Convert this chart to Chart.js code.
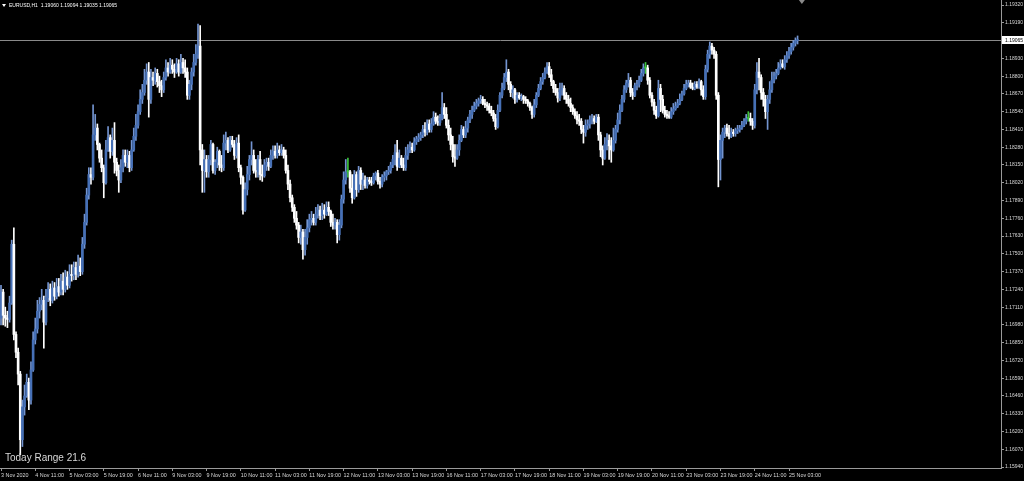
<!DOCTYPE html>
<html>
<head>
<meta charset="utf-8">
<script src="https://cdn.jsdelivr.net/npm/chart.js@4.4.1/dist/chart.umd.min.js"></script>
<style>
  html, body { margin: 0; padding: 0; background: #000; }
  #wrap { width: 1024px; height: 481px; position: relative; }
</style>
</head>
<body>
<div id="wrap"><canvas id="eurusdChart"></canvas></div>
<script>
// EURUSD H1 candles (open = previous close)
const symbolName = 'EURUSD,H1';
const todayRange = '21.6';
const firstOpen = 1.1703;

const closes = [
  1.1722,1.1705,1.1703,1.1702,1.1714,1.1757,1.1691,1.1678,1.1662,1.1614,
  1.1638,1.1646,1.1656,1.1643,1.1665,1.1687,1.1695,1.1708,1.1713,1.1716,
  1.1700,1.1718,1.1724,1.1716,1.1725,1.1719,1.1726,1.1722,1.1730,1.1724,
  1.1733,1.1727,1.1735,1.1734,1.1740,1.1735,1.1741,1.1737,1.1757,1.1773,
  1.1793,1.1808,1.1806,1.1837,1.1842,1.1830,1.1820,1.1813,1.1802,1.1826,
  1.1835,1.1825,1.1833,1.1817,1.1811,1.1804,1.1813,1.1822,1.1817,1.1822,
  1.1813,1.1826,1.1836,1.1844,1.1854,1.1863,1.1868,1.1877,1.1883,1.1863,
  1.1879,1.1877,1.1882,1.1876,1.1873,1.1870,1.1879,1.1886,1.1883,1.1888,
  1.1885,1.1883,1.1889,1.1883,1.1890,1.1886,1.1883,1.1866,1.1874,1.1883,
  1.1890,1.1896,1.1902,1.1826,1.1811,1.1819,1.1810,1.1819,1.1830,1.1811,
  1.1817,1.1825,1.1815,1.1813,1.1831,1.1833,1.1826,1.1833,1.1830,1.1822,
  1.1831,1.1813,1.1806,1.1782,1.1797,1.1808,1.1819,1.1822,1.1811,1.1810,
  1.1819,1.1808,1.1807,1.1815,1.1817,1.1814,1.1822,1.1825,1.1822,1.1826,
  1.1824,1.1826,1.1822,1.1811,1.1801,1.1791,1.1784,1.1776,1.1771,1.1762,
  1.1766,1.1753,1.1762,1.1769,1.1775,1.1776,1.1773,1.1779,1.1782,1.1778,
  1.1782,1.1779,1.1784,1.1781,1.1773,1.1771,1.1773,1.1764,1.1771,1.1790,
  1.1804,1.1810,1.1810,1.1798,1.1791,1.1808,1.1797,1.1811,1.1801,1.1804,
  1.1800,1.1804,1.1803,1.1802,1.1807,1.1809,1.1803,1.1801,1.1806,1.1807,
  1.1810,1.1811,1.1815,1.1819,1.1824,1.1814,1.1820,1.1815,1.1813,1.1822,
  1.1826,1.1828,1.1826,1.1832,1.1834,1.1835,1.1837,1.1841,1.1839,1.1845,
  1.1841,1.1845,1.1850,1.1847,1.1846,1.1849,1.1857,1.1852,1.1844,1.1837,
  1.1830,1.1821,1.1820,1.1826,1.1833,1.1841,1.1837,1.1842,1.1848,1.1852,
  1.1855,1.1858,1.1860,1.1862,1.1863,1.1860,1.1859,1.1858,1.1855,1.1853,
  1.1849,1.1843,1.1855,1.1866,1.1871,1.1879,1.1883,1.1874,1.1868,1.1870,
  1.1863,1.1866,1.1864,1.1865,1.1863,1.1862,1.1860,1.1857,1.1852,1.1859,
  1.1866,1.1871,1.1876,1.1879,1.1883,1.1887,1.1881,1.1876,1.1871,1.1868,
  1.1864,1.1870,1.1871,1.1866,1.1863,1.1860,1.1857,1.1854,1.1851,1.1848,
  1.1847,1.1841,1.1839,1.1844,1.1845,1.1848,1.1849,1.1847,1.1850,1.1837,
  1.1826,1.1820,1.1830,1.1833,1.1829,1.1826,1.1833,1.1841,1.1848,1.1855,
  1.1863,1.1870,1.1875,1.1877,1.1868,1.1866,1.1873,1.1874,1.1877,1.1882,
  1.1886,1.1886,1.1877,1.1866,1.1861,1.1855,1.1851,1.1871,1.1863,1.1855,
  1.1852,1.1851,1.1850,1.1854,1.1856,1.1858,1.1860,1.1863,1.1867,1.1871,
  1.1874,1.1875,1.1872,1.1871,1.1874,1.1872,1.1876,1.1870,1.1865,1.1885,
  1.1896,1.1902,1.1899,1.1896,1.1866,1.1819,1.1833,1.1839,1.1842,1.1838,
  1.1836,1.1839,1.1838,1.1840,1.1841,1.1842,1.1844,1.1847,1.1849,1.1849,
  1.1847,1.1844,1.1870,1.1883,1.1879,1.1868,1.1863,1.1854,1.1863,1.1870,
  1.1877,1.1880,1.1882,1.1886,1.1889,1.1887,1.1892,1.1895,1.1898,1.1901,
  1.1904,1.19060,1.19065
];

const highs = [
  1.1727,1.1724,1.1711,1.1708,1.1719,1.1760,1.1769,1.1693,1.1681,1.1664,
  1.1643,1.1654,1.1662,1.1659,1.1671,1.1693,1.1703,1.1716,1.1718,1.1724,
  1.1719,1.1724,1.1729,1.1728,1.1730,1.1729,1.1732,1.1732,1.1735,1.1736,
  1.1738,1.1737,1.1742,1.1742,1.1744,1.1744,1.1749,1.1747,1.1762,1.1779,
  1.1798,1.1813,1.1813,1.1859,1.1852,1.1845,1.1831,1.1826,1.1815,1.1833,
  1.1843,1.1837,1.1842,1.1846,1.1820,1.1815,1.1819,1.1826,1.1826,1.1826,
  1.1825,1.1833,1.1842,1.1852,1.1859,1.1870,1.1874,1.1885,1.1889,1.1890,
  1.1885,1.1883,1.1886,1.1885,1.1880,1.1877,1.1883,1.1892,1.1890,1.1893,
  1.1892,1.1889,1.1893,1.1892,1.1896,1.1893,1.1892,1.1886,1.1877,1.1886,
  1.1896,1.1903,1.1918,1.1917,1.1830,1.1826,1.1822,1.1822,1.1833,1.1831,
  1.1819,1.1828,1.1826,1.1822,1.1837,1.1839,1.1835,1.1836,1.1836,1.1833,
  1.1835,1.1837,1.1815,1.1807,1.1802,1.1814,1.1822,1.1832,1.1826,1.1819,
  1.1822,1.1825,1.1815,1.1819,1.1820,1.1820,1.1826,1.1829,1.1829,1.1831,
  1.1829,1.1830,1.1828,1.1826,1.1815,1.1804,1.1793,1.1786,1.1781,1.1773,
  1.1771,1.1768,1.1768,1.1775,1.1779,1.1781,1.1779,1.1784,1.1786,1.1785,
  1.1787,1.1786,1.1788,1.1788,1.1782,1.1779,1.1776,1.1775,1.1775,1.1793,
  1.1810,1.1819,1.1820,1.1811,1.1808,1.1811,1.1810,1.1814,1.1813,1.1809,
  1.1807,1.1806,1.1806,1.1806,1.1809,1.1810,1.1811,1.1806,1.1808,1.1810,
  1.1811,1.1814,1.1817,1.1822,1.1830,1.1833,1.1826,1.1822,1.1820,1.1828,
  1.1830,1.1832,1.1831,1.1835,1.1836,1.1838,1.1839,1.1844,1.1846,1.1848,
  1.1848,1.1849,1.1854,1.1853,1.1851,1.1852,1.1868,1.1860,1.1857,1.1848,
  1.1842,1.1836,1.1830,1.1830,1.1837,1.1844,1.1843,1.1847,1.1850,1.1855,
  1.1858,1.1861,1.1863,1.1864,1.1866,1.1865,1.1863,1.1861,1.1860,1.1858,
  1.1855,1.1852,1.1859,1.1868,1.1875,1.1882,1.1892,1.1885,1.1876,1.1873,
  1.1871,1.1868,1.1868,1.1867,1.1866,1.1865,1.1863,1.1861,1.1858,1.1863,
  1.1868,1.1874,1.1879,1.1882,1.1886,1.1890,1.1890,1.1885,1.1877,1.1874,
  1.1871,1.1875,1.1875,1.1873,1.1868,1.1866,1.1864,1.1859,1.1856,1.1854,
  1.1852,1.1849,1.1844,1.1848,1.1848,1.1851,1.1852,1.1851,1.1852,1.1852,
  1.1839,1.1829,1.1835,1.1838,1.1837,1.1835,1.1842,1.1844,1.1853,1.1859,
  1.1866,1.1873,1.1877,1.1882,1.1879,1.1871,1.1875,1.1877,1.1880,1.1885,
  1.1889,1.1890,1.1888,1.1879,1.1868,1.1863,1.1858,1.1877,1.1874,1.1866,
  1.1858,1.1855,1.1854,1.1857,1.1860,1.1861,1.1863,1.1867,1.1869,1.1874,
  1.1877,1.1877,1.1877,1.1875,1.1876,1.1876,1.1878,1.1877,1.1873,1.1888,
  1.1899,1.1905,1.1904,1.1901,1.1898,1.1868,1.1837,1.1842,1.1844,1.1845,
  1.1844,1.1842,1.1841,1.1842,1.1844,1.1844,1.1847,1.1849,1.1852,1.1854,
  1.1853,1.1849,1.1874,1.1890,1.1893,1.1881,1.1871,1.1866,1.1866,1.1876,
  1.1883,1.1883,1.1885,1.1890,1.1892,1.1892,1.1895,1.1898,1.1901,1.1904,
  1.1906,1.1908,1.19094
];

const lows = [
  1.1698,1.1698,1.1697,1.1696,1.1700,1.1713,1.1687,1.1674,1.1654,1.1603,
  1.1609,1.1632,1.1645,1.1636,1.1640,1.1664,1.1684,1.1692,1.1703,1.1709,
  1.1681,1.1698,1.1715,1.1712,1.1714,1.1716,1.1717,1.1719,1.1720,1.1720,
  1.1722,1.1724,1.1725,1.1730,1.1731,1.1731,1.1733,1.1734,1.1735,1.1754,
  1.1771,1.1790,1.1801,1.1804,1.1833,1.1826,1.1817,1.1810,1.1791,1.1801,
  1.1825,1.1820,1.1822,1.1809,1.1807,1.1795,1.1802,1.1810,1.1814,1.1813,
  1.1810,1.1811,1.1825,1.1833,1.1842,1.1852,1.1860,1.1866,1.1874,1.1850,
  1.1860,1.1873,1.1874,1.1872,1.1868,1.1865,1.1868,1.1877,1.1880,1.1882,
  1.1882,1.1879,1.1882,1.1880,1.1882,1.1882,1.1879,1.1863,1.1863,1.1870,
  1.1880,1.1888,1.1893,1.1815,1.1795,1.1795,1.1806,1.1806,1.1815,1.1809,
  1.1808,1.1813,1.1811,1.1810,1.1811,1.1826,1.1824,1.1825,1.1828,1.1819,
  1.1820,1.1810,1.1801,1.1779,1.1781,1.1793,1.1804,1.1815,1.1809,1.1806,
  1.1806,1.1804,1.1803,1.1806,1.1811,1.1811,1.1813,1.1819,1.1820,1.1820,
  1.1822,1.1822,1.1820,1.1809,1.1797,1.1788,1.1781,1.1773,1.1768,1.1758,
  1.1757,1.1746,1.1749,1.1757,1.1766,1.1771,1.1771,1.1771,1.1776,1.1775,
  1.1775,1.1776,1.1778,1.1778,1.1770,1.1768,1.1768,1.1758,1.1760,1.1769,
  1.1787,1.1801,1.1806,1.1795,1.1787,1.1790,1.1792,1.1795,1.1797,1.1797,
  1.1798,1.1798,1.1801,1.1800,1.1801,1.1804,1.1801,1.1798,1.1799,1.1803,
  1.1804,1.1808,1.1809,1.1813,1.1815,1.1811,1.1813,1.1813,1.1811,1.1811,
  1.1819,1.1824,1.1824,1.1825,1.1830,1.1832,1.1833,1.1835,1.1836,1.1837,
  1.1839,1.1839,1.1844,1.1845,1.1844,1.1844,1.1848,1.1849,1.1842,1.1833,
  1.1826,1.1817,1.1814,1.1819,1.1822,1.1832,1.1835,1.1835,1.1839,1.1846,
  1.1849,1.1854,1.1856,1.1858,1.1860,1.1859,1.1857,1.1855,1.1853,1.1851,
  1.1847,1.1841,1.1842,1.1854,1.1864,1.1870,1.1876,1.1870,1.1865,1.1864,
  1.1860,1.1861,1.1863,1.1862,1.1860,1.1860,1.1858,1.1855,1.1849,1.1850,
  1.1857,1.1865,1.1870,1.1874,1.1878,1.1882,1.1879,1.1873,1.1868,1.1866,
  1.1861,1.1862,1.1866,1.1863,1.1860,1.1858,1.1854,1.1852,1.1849,1.1845,
  1.1844,1.1838,1.1831,1.1836,1.1841,1.1842,1.1845,1.1845,1.1846,1.1833,
  1.1821,1.1815,1.1819,1.1826,1.1819,1.1817,1.1825,1.1831,1.1839,1.1845,
  1.1854,1.1861,1.1868,1.1872,1.1865,1.1863,1.1865,1.1870,1.1872,1.1876,
  1.1880,1.1882,1.1874,1.1864,1.1858,1.1852,1.1849,1.1850,1.1854,1.1853,
  1.1850,1.1849,1.1849,1.1849,1.1852,1.1855,1.1857,1.1859,1.1862,1.1866,
  1.1870,1.1872,1.1871,1.1870,1.1870,1.1871,1.1871,1.1866,1.1863,1.1863,
  1.1883,1.1893,1.1896,1.1893,1.1863,1.1799,1.1804,1.1820,1.1835,1.1836,
  1.1834,1.1835,1.1836,1.1836,1.1838,1.1839,1.1841,1.1843,1.1845,1.1847,
  1.1844,1.1841,1.1842,1.1867,1.1870,1.1863,1.1858,1.1849,1.1841,1.1860,
  1.1868,1.1875,1.1878,1.1881,1.1885,1.1886,1.1885,1.1890,1.1893,1.1896,
  1.1899,1.1902,1.19035
];

// one time label every 16 bars
const xTickLabels = [
  '3 Nov 2020', '4 Nov 11:00', '5 Nov 03:00', '5 Nov 19:00', '6 Nov 11:00',
  '9 Nov 03:00', '9 Nov 19:00', '10 Nov 11:00', '11 Nov 03:00', '11 Nov 19:00',
  '12 Nov 11:00', '13 Nov 03:00', '13 Nov 19:00', '16 Nov 11:00', '17 Nov 03:00',
  '17 Nov 19:00', '18 Nov 11:00', '19 Nov 03:00', '19 Nov 19:00', '20 Nov 11:00',
  '23 Nov 03:00', '23 Nov 19:00', '24 Nov 11:00', '25 Nov 03:00'
];
const barsPerLabel = 16;

const yTickValues = [
  1.15940, 1.16070, 1.16200, 1.16330, 1.16460, 1.16590, 1.16720, 1.16850, 1.16980,
  1.17110, 1.17240, 1.17370, 1.17500, 1.17630, 1.17760, 1.17890, 1.18020, 1.18150,
  1.18280, 1.18410, 1.18540, 1.18670, 1.18800, 1.18930, 1.19060, 1.19190, 1.19320
];

const bullColor = '#4670b6';
const bullWick = '#7394d0';
const bearColor = '#ffffff';
const dojiColor = '#3cc43c';
const axisColor = '#9a9a9a';
const textColor = '#d8d8d8';

const bodies = [], wicks = [], bodyColors = [], wickColors = [];
closes.forEach((c, i) => {
  const o = i === 0 ? firstOpen : closes[i - 1];
  bodies.push({ x: i, y: [o, c] });
  wicks.push({ x: i, y: [Math.min(lows[i], o, c), Math.max(highs[i], o, c)] });
  bodyColors.push(c > o ? bullColor : (c < o ? bearColor : dojiColor));
  wickColors.push(c > o ? bullWick : (c < o ? bearColor : dojiColor));
});

const last = closes.length - 1;
const lastOpen = closes[last - 1];
const lastClose = closes[last];

Chart.defaults.font.family = '"Liberation Sans", Arial, sans-serif';

const mtOverlay = {
  id: 'mtOverlay',
  beforeDraw(chart) {
    const ctx = chart.ctx;
    ctx.save();
    ctx.fillStyle = '#000';
    ctx.fillRect(0, 0, chart.width, chart.height);
    ctx.restore();
  },
  beforeDatasetsDraw(chart) {
    const { ctx, chartArea, scales } = chart;
    const y = Math.round(scales.y.getPixelForValue(lastClose)) + 0.5;
    ctx.save();
    ctx.strokeStyle = '#8a8a8a';
    ctx.lineWidth = 1;
    ctx.beginPath();
    ctx.moveTo(chartArea.left, y);
    ctx.lineTo(chartArea.right, y);
    ctx.stroke();
    ctx.restore();
  },
  afterDraw(chart) {
    const { ctx, chartArea, scales } = chart;
    ctx.save();
    // bid price box on the axis
    const y = Math.round(scales.y.getPixelForValue(lastClose));
    ctx.fillStyle = '#ffffff';
    ctx.fillRect(chartArea.right + 1, y - 4, 22, 8);
    ctx.fillStyle = '#000';
    ctx.font = '5px "Liberation Sans", Arial, sans-serif';
    ctx.textBaseline = 'middle';
    ctx.textAlign = 'left';
    ctx.fillText(lastClose.toFixed(5), chartArea.right + 4, y + 0.5);

    // header: symbol and OHLC of the last bar
    ctx.fillStyle = '#ffffff';
    ctx.beginPath();
    ctx.moveTo(2, 4); ctx.lineTo(6, 4); ctx.lineTo(4, 7); ctx.closePath();
    ctx.fill();
    ctx.fillText(symbolName + '  ' + [lastOpen, highs[last], lows[last], lastClose]
      .map(v => v.toFixed(5)).join(' '), 9, 5.5);

    // chart shift marker
    const sx = scales.x.getPixelForValue(closes.length + 1);
    ctx.fillStyle = '#8a8a8a';
    ctx.beginPath();
    ctx.moveTo(sx - 3, 0); ctx.lineTo(sx + 3, 0); ctx.lineTo(sx, 4); ctx.closePath();
    ctx.fill();

    // today range label
    ctx.fillStyle = textColor;
    ctx.font = '10px "Liberation Sans", Arial, sans-serif';
    ctx.textBaseline = 'alphabetic';
    ctx.fillText('Today Range ' + todayRange, 5, 461);
    ctx.restore();
  }
};

new Chart(document.getElementById('eurusdChart'), {
  type: 'bar',
  data: {
    datasets: [
      {
        label: 'body',
        data: bodies,
        backgroundColor: bodyColors,
        borderWidth: 0,
        barThickness: 2,
        minBarLength: 1,
        grouped: false
      },
      {
        label: 'wick',
        data: wicks,
        backgroundColor: wickColors,
        borderWidth: 0,
        barThickness: 1,
        grouped: false
      }
    ]
  },
  options: {
    responsive: true,
    maintainAspectRatio: false,
    devicePixelRatio: 1,
    animation: false,
    layout: { padding: 0 },
    plugins: {
      legend: { display: false },
      tooltip: { enabled: false },
      title: { display: false }
    },
    scales: {
      x: {
        type: 'linear',
        offset: false,
        min: -0.47,
        max: 467,
        afterBuildTicks: scale => {
          scale.ticks = xTickLabels.map((_, k) => ({ value: k * barsPerLabel }));
        },
        afterFit: scale => {
          scale.height = 13;
          scale.paddingLeft = 0;
          scale.paddingRight = 0;
        },
        grid: { display: true, drawOnChartArea: false, offset: false, tickLength: 3, color: axisColor },
        border: { display: true, color: axisColor, width: 1 },
        ticks: {
          autoSkip: false,
          maxRotation: 0,
          align: 'start',
          padding: 1,
          color: textColor,
          font: { size: 5.4 },
          callback: (value, index) => xTickLabels[index]
        }
      },
      y: {
        position: 'right',
        beginAtZero: false,
        min: 1.15933,
        max: 1.19357,
        afterBuildTicks: scale => {
          scale.ticks = yTickValues.map(v => ({ value: v }));
        },
        afterFit: scale => {
          scale.width = 23;
          scale.paddingTop = 0;
          scale.paddingBottom = 0;
        },
        grid: { display: true, drawOnChartArea: false, tickLength: 3, color: axisColor },
        border: { display: true, color: axisColor, width: 1 },
        ticks: {
          autoSkip: false,
          padding: 1,
          color: textColor,
          font: { size: 5 },
          callback: value => value.toFixed(5)
        }
      }
    }
  },
  plugins: [mtOverlay]
});
</script>
</body>
</html>
